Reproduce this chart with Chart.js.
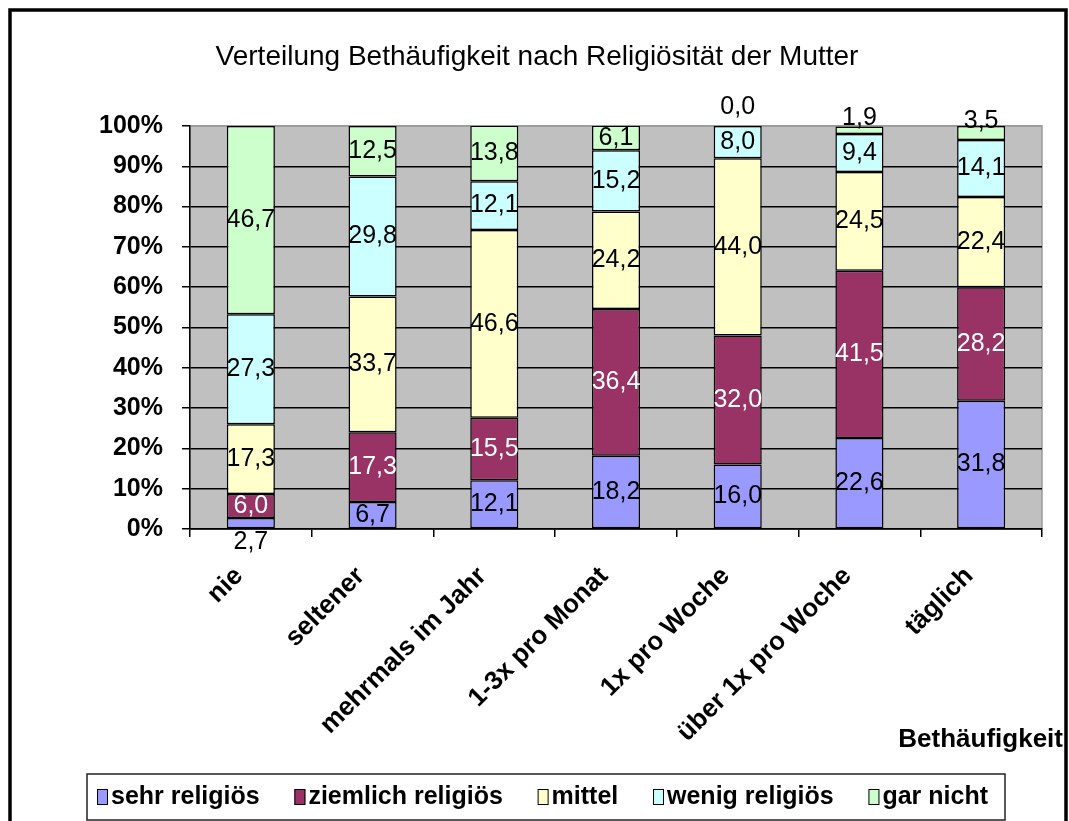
<!DOCTYPE html>
<html>
<head>
<meta charset="utf-8">
<title>Verteilung Bethäufigkeit nach Religiösität der Mutter</title>
<script src="https://cdn.jsdelivr.net/npm/chart.js@4.4.1/dist/chart.umd.min.js"></script>
<style>
  html, body { margin: 0; padding: 0; background: #fff; }
  #wrap { width: 1069px; height: 821px; }
</style>
</head>
<body>
<div id="wrap"><canvas id="bethChart" width="1069" height="821"></canvas></div>
<script>
// data (percent per category)
const categories = ['nie', 'seltener', 'mehrmals im Jahr', '1-3x pro Monat', '1x pro Woche', 'über 1x pro Woche', 'täglich'];
const seriesNames = ['sehr religiös', 'ziemlich religiös', 'mittel', 'wenig religiös', 'gar nicht'];
const sehrReligioes     = [2.7, 6.7, 12.1, 18.2, 16.0, 22.6, 31.8];
const ziemlichReligioes = [6.0, 17.3, 15.5, 36.4, 32.0, 41.5, 28.2];
const mittel            = [17.3, 33.7, 46.6, 24.2, 44.0, 24.5, 22.4];
const wenigReligioes    = [27.3, 29.8, 12.1, 15.2, 8.0, 9.4, 14.1];
const garNicht          = [46.7, 12.5, 13.8, 6.1, 0.0, 1.9, 3.5];

const FONT = 'Arial, "Liberation Sans", sans-serif';
const colors = ['#9999ff', '#993366', '#ffffcc', '#ccffff', '#ccffcc'];
const seriesData = [sehrReligioes, ziemlichReligioes, mittel, wenigReligioes, garNicht];

// background, plot area, outer frame, axis title and legend box
const frame = {
    id: 'frame',
    beforeDraw(chart) {
        const { ctx, chartArea: a } = chart;
        ctx.save();
        ctx.fillStyle = '#fff';
        ctx.fillRect(0, 0, chart.width, chart.height);
        ctx.fillStyle = '#c0c0c0';
        ctx.fillRect(a.left, a.top, a.right - a.left, a.bottom - a.top);
        ctx.strokeStyle = '#9a9a9a';
        ctx.lineWidth = 1.5;
        ctx.strokeRect(a.left, a.top, a.right - a.left, a.bottom - a.top);
        ctx.restore();
    },
    afterDraw(chart) {
        const ctx = chart.ctx;
        ctx.save();
        // outer frame
        ctx.strokeStyle = '#000';
        ctx.lineWidth = 3.5;
        ctx.strokeRect(10, 10, 1056, 840);

        // x axis title
        ctx.fillStyle = '#000';
        ctx.font = 'bold 26px ' + FONT;
        ctx.textAlign = 'right';
        ctx.textBaseline = 'middle';
        ctx.fillText('Bethäufigkeit', 1063, 740);

        // legend
        ctx.lineWidth = 1.5;
        ctx.strokeStyle = '#222';
        ctx.strokeRect(87, 774, 918, 46);
        ctx.font = 'bold 25px ' + FONT;
        ctx.textAlign = 'left';
        const ds = chart.data.datasets;
        const widths = ds.map(d => ctx.measureText(d.label).width);
        const sq = 11, sqGap = 3;
        const x0 = 97, x1 = 988, cy = 797;
        const total = widths.reduce((s, w) => s + w, 0) + ds.length * (sq + sqGap);
        const gap = (x1 - x0 - total) / (ds.length - 1);
        let x = x0;
        ds.forEach((d, k) => {
            ctx.fillStyle = d.backgroundColor;
            ctx.fillRect(x, cy - 8, sq, 16);
            ctx.lineWidth = 1;
            ctx.strokeStyle = '#000';
            ctx.strokeRect(x + 0.5, cy - 7.5, sq - 1, 15);
            ctx.fillStyle = '#000';
            ctx.fillText(d.label, x + sq + sqGap, cy);
            x += sq + sqGap + widths[k] + gap;
        });
        ctx.restore();
    }
};

// value labels in the middle of each segment
const segLabels = {
    id: 'segLabels',
    afterDatasetsDraw(chart) {
        const ctx = chart.ctx;
        const n = chart.data.datasets.length;
        ctx.save();
        ctx.font = '25px ' + FONT;
        ctx.textAlign = 'center';
        ctx.textBaseline = 'middle';
        chart.data.datasets.forEach((ds, i) => {
            chart.getDatasetMeta(i).data.forEach((bar, j) => {
                const v = ds.data[j];
                const h = Math.abs(bar.base - bar.y);
                let y = (bar.y + bar.base) / 2;
                if (v === 0) y = bar.y - 19;
                else if (h < 15 && i === 0) y += 19;
                else if (h < 15 && i === n - 1) y -= 12;
                ctx.fillStyle = i === 1 ? '#fff' : '#000';
                ctx.fillText(v.toFixed(1).replace('.', ','), bar.x, y);
            });
        });
        ctx.restore();
    }
};

const datasets = seriesNames.map((name, i) => ({
    label: name,
    data: seriesData[i],
    backgroundColor: colors[i],
    borderColor: '#000',
    borderWidth: 1.5,
    borderSkipped: false
}));

new Chart(document.getElementById('bethChart'), {
    type: 'bar',
    data: { labels: categories, datasets: datasets },
    options: {
        responsive: false,
        animation: false,
        layout: { padding: { left: 32, right: 27, top: 0, bottom: 0 } },
        datasets: { bar: { categoryPercentage: 1, barPercentage: 0.395 } },
        plugins: {
            legend: { display: false },
            tooltip: { enabled: false },
            title: {
                display: true,
                text: 'Verteilung Bethäufigkeit nach Religiösität der Mutter',
                color: '#000',
                font: { family: FONT, size: 28, weight: 'normal' },
                padding: { top: 40, bottom: 52.4 }
            }
        },
        scales: {
            x: {
                stacked: true,
                grid: { offset: true, drawOnChartArea: false, tickLength: 8, color: '#000', lineWidth: 1.5 },
                border: { color: '#000', width: 1.5 },
                ticks: {
                    autoSkip: false, minRotation: 45, maxRotation: 45,
                    padding: 24, labelOffset: -12, color: '#000',
                    font: { family: FONT, size: 26, weight: 'bold' }
                },
                afterFit(scale) { scale.height = 292; }
            },
            y: {
                stacked: true,
                min: 0,
                max: 100,
                ticks: {
                    stepSize: 5,
                    padding: 19,
                    color: '#000',
                    font: { family: FONT, size: 25, weight: 'bold' },
                    callback: v => (v % 10 === 0 ? v + '%' : '')
                },
                grid: {
                    color: c => (c.tick.value === 100 ? '#9a9a9a' : (c.tick.value % 10 === 0 ? '#000' : 'rgba(0,0,0,0)')),
                    tickColor: '#000',
                    tickLength: 8,
                    lineWidth: 1.5
                },
                border: { color: '#000', width: 1.5 },
                afterFit(scale) { scale.width = 158; }
            }
        }
    },
    plugins: [frame, segLabels]
});
</script>
</body>
</html>
